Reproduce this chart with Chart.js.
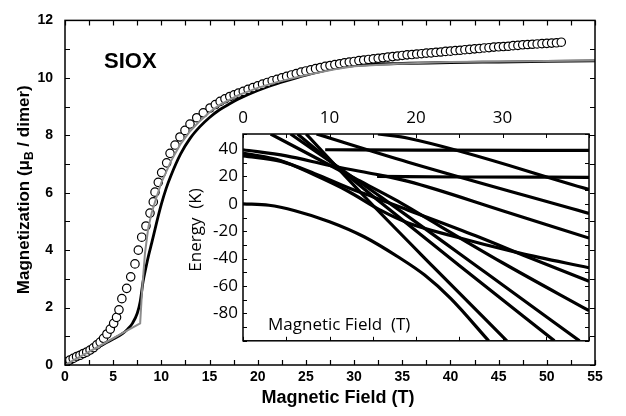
<!DOCTYPE html>
<html>
<head>
<meta charset="utf-8">
<script src="https://cdn.jsdelivr.net/npm/chart.js@4.4.1/dist/chart.umd.min.js"></script>
<style>
  html, body { margin: 0; padding: 0; background: #fff; }
  #wrap { position: relative; width: 626px; height: 416px; }
  #main { position: absolute; left: 0; top: 0; }
  #inset { position: absolute; left: 180px; top: 100px; }
</style>
</head>
<body>
<div id="wrap">
  <canvas id="main" width="626" height="416"></canvas>
  <canvas id="inset" width="420" height="256"></canvas>
</div>
<script>
// measured magnetization (open circles)
const fieldT = [0.17, 0.5, 0.85, 1.2, 1.55, 1.9, 2.25, 2.6, 2.95, 3.3, 3.65, 4.0, 4.35, 4.7, 5.05, 5.35,
  5.6, 5.9, 6.4, 6.82, 7.26, 7.61, 7.96, 8.4, 8.82, 9.16, 9.34, 9.68, 10.03, 10.55, 10.9, 11.42, 11.93,
  12.45, 12.97, 13.67, 14.35, 15.05, 15.6, 16.1, 16.6, 17.1, 17.55, 18.0,
  18.5, 19, 19.5, 20, 20.5, 21, 21.5, 22, 22.5, 23, 23.5, 24, 24.5, 25, 25.5, 26, 26.5, 27, 27.5, 28,
  28.5, 29, 29.5, 30, 30.5, 31, 31.5, 32, 32.5, 33, 33.5, 34, 34.5, 35, 35.5, 36, 36.5, 37, 37.5, 38,
  38.5, 39, 39.5, 40, 40.5, 41, 41.5, 42, 42.5, 43, 43.5, 44, 44.5, 45, 45.5, 46, 46.5, 47, 47.5, 48,
  48.5, 49, 49.5, 50, 50.5, 51, 51.5];
const momentMuB = [0.11, 0.17, 0.23, 0.29, 0.34, 0.4, 0.45, 0.52, 0.6, 0.7, 0.8, 0.93, 1.08, 1.25, 1.45, 1.66,
  1.92, 2.31, 2.67, 3.07, 3.52, 4.0, 4.45, 4.84, 5.29, 5.68, 6.02, 6.36, 6.7, 7.04, 7.37, 7.66, 7.94,
  8.17, 8.39, 8.61, 8.78, 8.95, 9.07, 9.18, 9.27, 9.35, 9.41, 9.47,
  9.53, 9.6, 9.66, 9.72, 9.78, 9.84, 9.9, 9.95, 10.0, 10.05, 10.1, 10.15, 10.2, 10.24, 10.28, 10.32,
  10.36, 10.4, 10.43, 10.46, 10.49, 10.52, 10.55, 10.57, 10.6, 10.62, 10.64, 10.66, 10.68, 10.7, 10.72,
  10.74, 10.76, 10.78, 10.8, 10.81, 10.83, 10.84, 10.86, 10.87, 10.89, 10.9, 10.92, 10.93, 10.95, 10.96,
  10.98, 10.99, 11.01, 11.02, 11.04, 11.05, 11.07, 11.08, 11.09, 11.1, 11.12, 11.13, 11.15, 11.16,
  11.17, 11.18, 11.19, 11.2, 11.21, 11.22, 11.24];

// black fit curve
const blackField = [0, 1, 2, 3, 4, 5, 6, 6.5, 7, 7.5, 7.8, 8.1, 8.4, 8.7, 9.0, 9.5, 10, 10.5, 11, 12, 13,
  14, 15, 16, 17, 18, 20, 22, 24, 26, 28, 30, 35, 40, 45, 50, 55];
const blackM = [0.03, 0.2, 0.38, 0.55, 0.72, 0.9, 1.1, 1.25, 1.45, 1.8, 2.2, 2.9, 3.4, 3.85, 4.25, 4.95,
  5.6, 6.15, 6.6, 7.35, 7.9, 8.3, 8.62, 8.88, 9.08, 9.26, 9.56, 9.8, 10.0, 10.18, 10.33, 10.43, 10.5,
  10.53, 10.55, 10.57, 10.59];

// grey fit curve
const greyField = [0, 2, 4, 6, 7, 7.8, 8.0, 8.3, 8.65, 9.0, 9.5, 10, 11, 12, 13, 14, 15, 16, 18, 20, 22,
  25, 28, 30, 35, 40, 45, 50, 55];
const greyM = [0, 0.37, 0.74, 1.12, 1.3, 1.45, 2.6, 3.9, 4.8, 5.3, 5.85, 6.35, 7.1, 7.7, 8.15, 8.5, 8.8,
  9.05, 9.4, 9.65, 9.85, 10.1, 10.3, 10.4, 10.5, 10.55, 10.57, 10.59, 10.6];

// inset: Zeeman energy levels, [field (T), energy (K)]
const levelGround = [[0, 0], [3, -1], [6, -5], [10, -13], [14, -24], [18, -39], [21, -52], [24, -69], [28.4, -100]];
const levelBandA = [[0, 37], [4.4, 31.5], [8.3, 21], [12.1, 9.4], [16, -5], [19.1, -14], [24.1, -23.3], [32, -36], [40, -46.7]];
const levelBandB = [[0, 35], [4.4, 31], [8.3, 22], [12.1, 12], [15.2, 4.7], [19.1, -4.6], [26.9, -23.3], [33, -39], [40, -56.5]];
const levelBandC = [[0, 39.5], [5, 35], [10, 28], [15, 22], [19.1, 16.4], [30, -5], [40, -25]];
const levelSteep1 = [[7.3, 51], [14.1, 5], [22, -46], [30.5, -100]];
const levelSteep2 = [[6.3, 51], [15.2, 4.7], [25, -45], [36, -100]];
const levelSteep3 = [[5.5, 51], [16, 4.7], [28, -50], [38.9, -100]];
const levelSteep4 = [[3.2, 51], [12.9, 18.7], [17.9, 2], [20.3, -7], [30, -43], [40, -78]];
const levelTopA = [[15.6, 51], [19.1, 47.9], [40, 10.5]];
const levelTopB = [[8.5, 51], [19.1, 30.4], [40, -7]];
const levelFlat39 = [[9.5, 39.5], [20, 39.2], [40, 39]];
const levelFlat19 = [[15.5, 20], [25, 19.6], [40, 19.4]];
const levels = [levelGround, levelBandA, levelBandB, levelBandC, levelSteep1, levelSteep2, levelSteep3,
  levelSteep4, levelTopA, levelTopB, levelFlat39, levelFlat19];

const FONT_BOLD = "'Liberation Sans', Arial, sans-serif";
const FONT_INSET = "'Open Sans', 'Noto Sans', sans-serif";

const toXY = (xs, ys) => xs.map((x, i) => ({ x: x, y: ys[i] }));

// inward ticks on all four sides plus the frame
const innerTicks = {
  id: 'innerTicks',
  afterDatasetsDraw(chart, args, o) {
    const { ctx, chartArea: a } = chart;
    const sx = chart.scales.x, sy = chart.scales.y;
    ctx.save();
    ctx.strokeStyle = '#000';
    ctx.lineWidth = o.lineWidth;
    ctx.beginPath();
    sx.ticks.forEach(t => {
      const p = Math.round(sx.getPixelForValue(t.value)) + 0.5;
      ctx.moveTo(p, a.bottom); ctx.lineTo(p, a.bottom - o.len);
      ctx.moveTo(p, a.top); ctx.lineTo(p, a.top + o.len);
    });
    sy.ticks.forEach(t => {
      const p = Math.round(sy.getPixelForValue(t.value)) + 0.5;
      ctx.moveTo(a.left, p); ctx.lineTo(a.left + o.len, p);
      ctx.moveTo(a.right, p); ctx.lineTo(a.right - o.len, p);
    });
    ctx.stroke();
    ctx.lineWidth = o.frame;
    ctx.strokeRect(a.left, a.top, a.right - a.left, a.bottom - a.top);
    ctx.restore();
  }
};

const mainLabels = {
  id: 'mainLabels',
  afterDraw(chart) {
    const { ctx, chartArea: a } = chart;
    ctx.save();
    ctx.fillStyle = '#000';
    ctx.font = 'bold 22px ' + FONT_BOLD;
    ctx.textBaseline = 'middle';
    ctx.fillText('SIOX', 104, 62);

    // x title, sits a little right of the plot centre in the original
    ctx.font = 'bold 18px ' + FONT_BOLD;
    ctx.textAlign = 'center';
    ctx.fillText('Magnetic Field (T)', 338, 398);
    ctx.textAlign = 'left';

    // y title with subscript
    ctx.translate(23, (a.top + a.bottom) / 2 - 3);
    ctx.rotate(-Math.PI / 2);
    const big = 'bold 17px ' + FONT_BOLD, small = 'bold 12px ' + FONT_BOLD;
    const p1 = 'Magnetization (\u03BC', sub = 'B', p3 = ' / dimer)';
    ctx.font = big;
    const w1 = ctx.measureText(p1).width, w3 = ctx.measureText(p3).width;
    ctx.font = small;
    const w2 = ctx.measureText(sub).width;
    let x = -(w1 + w2 + w3) / 2;
    ctx.textBaseline = 'alphabetic';
    ctx.font = big; ctx.fillText(p1, x, 6); x += w1;
    ctx.font = small; ctx.fillText(sub, x, 10); x += w2;
    ctx.font = big; ctx.fillText(p3, x, 6);
    ctx.restore();
  }
};

new Chart(document.getElementById('main'), {
  type: 'scatter',
  data: {
    datasets: [
      {
        data: toXY(greyField, greyM), showLine: true, borderColor: '#8c8c8c', borderWidth: 2,
        pointRadius: 0, tension: 0
      },
      {
        data: toXY(fieldT, momentMuB), showLine: false, pointStyle: 'circle', pointRadius: 4.2,
        borderColor: '#000', backgroundColor: '#fff', borderWidth: 1.2
      },
      {
        data: toXY(blackField, blackM), showLine: true, borderColor: '#000', borderWidth: 2.8,
        pointRadius: 0, tension: 0.3, cubicInterpolationMode: 'monotone'
      }
    ]
  },
  options: {
    responsive: false,
    animation: false,
    devicePixelRatio: 1,
    layout: { padding: { left: 0, right: 31, top: 10, bottom: 0 } },
    plugins: {
      legend: { display: false },
      tooltip: { enabled: false },
      innerTicks: { len: 5, lineWidth: 1.2, frame: 1.5 }
    },
    scales: {
      x: {
        type: 'linear', min: 0, max: 55,
        grid: { display: false, drawTicks: false },
        border: { display: false },
        ticks: {
          stepSize: 2.5, autoSkip: false, maxRotation: 0, padding: 4, color: '#000',
          font: { family: FONT_BOLD, size: 14, weight: 'bold' },
          callback: v => (v % 5 === 0 ? v : '')
        },
        afterFit: s => { s.height = 51; }
      },
      y: {
        type: 'linear', min: 0, max: 12,
        grid: { display: false, drawTicks: false },
        border: { display: false },
        ticks: {
          stepSize: 1, autoSkip: false, padding: 12, color: '#000',
          font: { family: FONT_BOLD, size: 14, weight: 'bold' },
          callback: v => (v % 2 === 0 ? v : '')
        },
        afterFit: s => { s.width = 65; }
      }
    }
  },
  plugins: [innerTicks, mainLabels]
});

const insetDecor = {
  id: 'insetDecor',
  beforeDatasetsDraw(chart) {
    const { ctx, chartArea: a } = chart;
    ctx.save();
    ctx.fillStyle = '#fff';
    ctx.fillRect(a.left, a.top, a.right - a.left, a.bottom - a.top);
    ctx.restore();
  },
  afterDraw(chart) {
    const { ctx } = chart;
    ctx.save();
    ctx.fillStyle = '#000';
    ctx.font = '17px ' + FONT_INSET;
    ctx.textBaseline = 'middle';
    ctx.fillText('Magnetic Field  (T)', 88, 225);
    ctx.translate(16, 130);
    ctx.rotate(-Math.PI / 2);
    ctx.textAlign = 'center';
    ctx.fillText('Energy  (K)', 0, 0);
    ctx.restore();
  }
};

new Chart(document.getElementById('inset'), {
  type: 'scatter',
  data: {
    datasets: levels.map(lv => ({
      data: lv.map(p => ({ x: p[0], y: p[1] })),
      showLine: true, borderColor: '#000', borderWidth: 3.2, pointRadius: 0,
      tension: 0.4, cubicInterpolationMode: 'monotone'
    }))
  },
  options: {
    responsive: false,
    animation: false,
    devicePixelRatio: 1,
    layout: { padding: { left: 0, right: 11, top: 0, bottom: 8 } },
    plugins: {
      legend: { display: false },
      tooltip: { enabled: false },
      innerTicks: { len: 4, lineWidth: 1, frame: 1.5 }
    },
    scales: {
      x: {
        type: 'linear', position: 'top', min: 0, max: 40,
        grid: { display: false, drawTicks: false },
        border: { display: false },
        ticks: {
          stepSize: 5, autoSkip: false, maxRotation: 0, padding: 6, color: '#000',
          font: { family: FONT_INSET, size: 17 },
          callback: v => (v % 10 === 0 && v < 40 ? v : '')
        },
        afterFit: s => { s.height = 34; }
      },
      y: {
        type: 'linear', min: -100, max: 51,
        grid: { display: false, drawTicks: false },
        border: { display: false },
        ticks: {
          stepSize: 10, autoSkip: false, padding: 5, color: '#000',
          font: { family: FONT_INSET, size: 17 },
          callback: v => (v % 20 === 0 && v > -100 && v <= 40 ? v : '')
        },
        afterFit: s => { s.width = 63; }
      }
    }
  },
  plugins: [innerTicks, insetDecor]
});
</script>
</body>
</html>
